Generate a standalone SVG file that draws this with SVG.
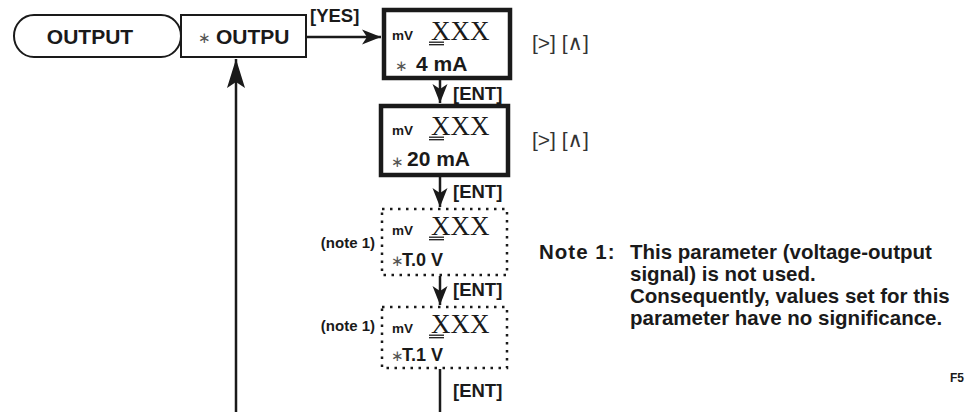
<svg xmlns="http://www.w3.org/2000/svg" width="966" height="412" viewBox="0 0 966 412">
<style>
.b{font-family:"Liberation Sans",Arial,sans-serif;font-weight:bold;fill:#1a1a1a}
.big{font-size:21px}
.ent{font-size:18.5px}
.mv{font-size:13.5px}
.xxx{font-family:"Liberation Serif","Times New Roman",serif;font-size:27px;fill:#1a1a1a}
.ast{font-family:"DejaVu Sans",sans-serif;font-size:15px;fill:#555}
.key{font-family:"Liberation Sans","DejaVu Sans",sans-serif;font-size:21px;fill:#333}
.thick{fill:#fff;stroke:#1a1a1a;stroke-width:4.5}
.dot{fill:#fff;stroke:#1a1a1a;stroke-width:2.5;stroke-dasharray:2.5 5.5}
.thin{fill:#fff;stroke:#1a1a1a;stroke-width:2}
.ul{stroke:#1a1a1a;stroke-width:1.3}
.ln{stroke:#1a1a1a;stroke-width:2.5;fill:none}
.note{font-size:20.5px}
.n1{font-size:15px}
</style>
<defs>
<marker id="ah" markerUnits="userSpaceOnUse" markerWidth="24" markerHeight="20" viewBox="-20 -10 22 20" refX="0" refY="0" orient="auto">
<path d="M0,0 L-19,-7.5 L-14,0 L-19,7.5 Z" fill="#1a1a1a"/>
</marker>
<marker id="ahl" markerUnits="userSpaceOnUse" markerWidth="34" markerHeight="22" viewBox="-32 -11 34 22" refX="0" refY="0" orient="auto">
<path d="M0,0 L-29,-9 L-23,0 L-29,9 Z" fill="#1a1a1a"/>
</marker>
<g id="ulx"><line class="ul" x1="0" y1="2.2" x2="15" y2="2.2"/><line class="ul" x1="0" y1="4.7" x2="15" y2="4.7"/></g>
</defs>

<g id="connectors">
<line class="ln" x1="306" y1="37" x2="381" y2="37" marker-end="url(#ah)"/>
<text class="b ent" x="310" y="22">[YES]</text>
<line class="ln" x1="236" y1="412" x2="236" y2="59" marker-end="url(#ahl)"/>
<line class="ln" x1="440" y1="80" x2="440" y2="103" marker-end="url(#ah)"/>
<text class="b ent" x="453" y="100">[ENT]</text>
<line class="ln" x1="440" y1="177" x2="440" y2="207" marker-end="url(#ah)"/>
<text class="b ent" x="453" y="198">[ENT]</text>
<line class="ln" x1="440" y1="276" x2="440" y2="305" marker-end="url(#ah)"/>
<text class="b ent" x="453" y="296">[ENT]</text>
<line class="ln" x1="440" y1="369" x2="440" y2="412"/>
<text class="b ent" x="453" y="397">[ENT]</text>
</g>

<g id="node-output">
<rect class="thin" x="14" y="15" width="167" height="42" rx="20" ry="21"/>
<text class="b big" x="90" y="44" text-anchor="middle">OUTPUT</text>
</g>

<g id="node-outpu">
<rect class="thin" x="181" y="15" width="125" height="42"/>
<text class="ast" x="198" y="43">∗</text>
<text class="b big" x="216" y="44">OUTPU</text>
</g>

<g id="node-4ma">
<rect class="thick" x="384" y="10" width="126" height="68"/>
<text class="b mv" x="392" y="40">mV</text>
<text class="xxx" x="431" y="40">XXX</text>
<use href="#ulx" x="429" y="40"/>
<text class="ast" x="395" y="71">∗</text>
<text class="b big" x="416" y="71">4 mA</text>
</g>
<text class="key" x="532" y="50">[&gt;] [∧]</text>

<g id="node-20ma">
<rect class="thick" x="381" y="106" width="127" height="69"/>
<text class="b mv" x="392" y="135">mV</text>
<text class="xxx" x="431" y="135">XXX</text>
<use href="#ulx" x="429" y="135"/>
<text class="ast" x="391" y="167">∗</text>
<text class="b big" x="407" y="166">20 mA</text>
</g>
<text class="key" x="532" y="147">[&gt;] [∧]</text>

<g id="node-t0v">
<rect class="dot" x="382" y="209" width="125" height="66"/>
<text class="b mv" x="392" y="235">mV</text>
<text class="xxx" x="431" y="235">XXX</text>
<use href="#ulx" x="429" y="235"/>
<text class="ast" x="391" y="266">∗</text>
<text class="b" style="font-size:18px" x="402" y="266">T.0 V</text>
<text class="b n1" x="375" y="248" text-anchor="end">(note 1)</text>
</g>

<g id="node-t1v">
<rect class="dot" x="382" y="307" width="125" height="61"/>
<text class="b mv" x="392" y="333">mV</text>
<text class="xxx" x="431" y="333">XXX</text>
<use href="#ulx" x="429" y="333"/>
<text class="ast" x="391" y="361">∗</text>
<text class="b" style="font-size:18px" x="402" y="361">T.1 V</text>
<text class="b n1" x="375" y="331" text-anchor="end">(note 1)</text>
</g>

<g id="note">
<text class="b note" x="539" y="259" letter-spacing="1">Note 1:</text>
<text class="b note">
<tspan x="630" y="259">This parameter (voltage-output</tspan>
<tspan x="630" y="281">signal) is not used.</tspan>
<tspan x="630" y="303">Consequently, values set for this</tspan>
<tspan x="630" y="325">parameter have no significance.</tspan>
</text>
</g>
<text class="b" style="font-size:12px" x="950" y="382">F5</text>
</svg>
